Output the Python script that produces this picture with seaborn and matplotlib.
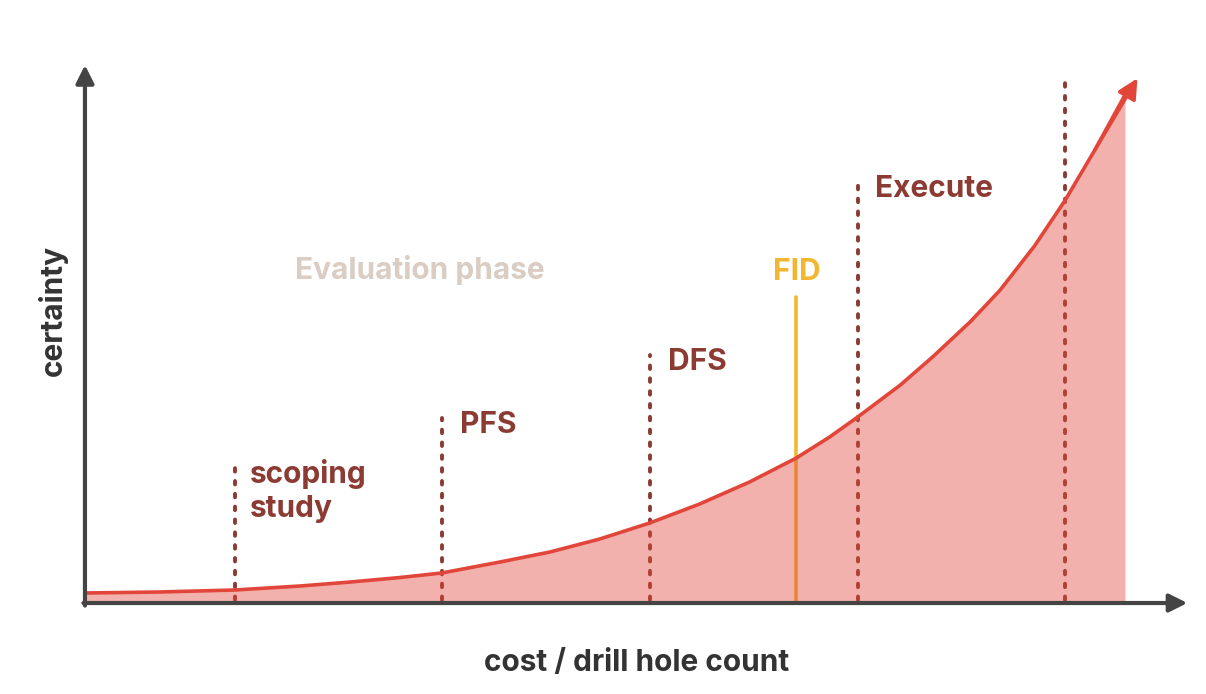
import matplotlib
matplotlib.use('Agg')
import matplotlib.pyplot as plt
import seaborn as sns

# curve (cost in %, certainty in %)
cost = [0, 7.2, 14.4, 20.7, 25.5, 30.3, 34.3, 39.9, 44.7, 49.5, 54.3, 59.1,
        63.9, 68.4, 71.6, 74.3, 78.4, 81.5, 85.1, 88.0, 91.3, 94.2, 97.1, 100.0]
certainty = [1.97, 2.17, 2.56, 3.35, 4.13, 5.02, 5.91, 8.07, 10.04, 12.60, 15.75, 19.49,
             23.82, 28.54, 32.68, 36.61, 42.91, 48.43, 55.31, 61.61, 70.28, 79.13, 89.17, 100.0]
arrow_tip = (101.2, 103.3)

# study gates
gates = ['scoping\nstudy', 'PFS', 'DFS', 'Execute', '']
gate_x = [14.4, 34.3, 54.3, 74.3, 94.2]
gate_top = [26.8, 36.4, 48.8, 82.7, 102.6]
fid_x = 68.4
fid_top = 60.2

red = '#e2463a'
brown = '#8c3b33'
gold = '#f2b630'
axis_col = '#444444'

sns.set_theme(style='white')
plt.rcParams['font.family'] = ['Inter', 'DejaVu Sans']

fig = plt.figure(figsize=(12.06, 6.94), dpi=100)
ax = fig.add_axes([0, 0, 1, 1])
ax.set_xlim(-8.17, 107.79)
ax.set_ylim(-17.91, 118.7)
ax.axis('off')

# gate lines
for gx, gt in zip(gate_x, gate_top):
    ax.plot([gx, gx], [0.6, gt], color=brown, lw=2.8,
            linestyle=(0, (0.9, 2.4)), dash_capstyle='round', zorder=2)
ax.plot([fid_x, fid_x], [0, fid_top], color=gold, lw=2.6, zorder=2)

# area under the curve
ax.fill_between(cost, 0, certainty, color=red, alpha=0.42, lw=0, zorder=3)
sns.lineplot(x=cost, y=certainty, ax=ax, color=red, lw=2.6, zorder=4,
             sort=False, estimator=None)
ax.annotate('', xy=arrow_tip, xytext=(cost[-2], certainty[-2]),
            arrowprops=dict(arrowstyle='-|>,head_length=1.0,head_width=0.5',
                            color=red, lw=2.6, shrinkA=0, shrinkB=0), zorder=4)

# axes arrows
ax.annotate('', xy=(0, 105.9), xytext=(0, -0.5),
            arrowprops=dict(arrowstyle='-|>,head_length=0.9,head_width=0.45',
                            color=axis_col, lw=3, shrinkA=0, shrinkB=0), zorder=5)
ax.annotate('', xy=(106.0, 0), xytext=(-0.15, 0),
            arrowprops=dict(arrowstyle='-|>,head_length=0.9,head_width=0.45',
                            color=axis_col, lw=3, shrinkA=0, shrinkB=0), zorder=5)

# labels
fs = 21.5
ax.text(15.9, 28.4, gates[0], color=brown, fontsize=fs, fontweight='bold',
        ha='left', va='top', linespacing=1.3)
ax.text(36.1, 35.0, gates[1], color=brown, fontsize=fs, fontweight='bold', ha='left', va='center')
ax.text(56.1, 47.4, gates[2], color=brown, fontsize=fs, fontweight='bold', ha='left', va='center')
ax.text(76.0, 81.4, gates[3], color=brown, fontsize=fs, fontweight='bold', ha='left', va='center')
ax.text(fid_x, 65.2, 'FID', color=gold, fontsize=fs, fontweight='bold', ha='center', va='center')
ax.text(20.2, 65.6, 'Evaluation phase', color='#d9cdc4', fontsize=fs, fontweight='bold',
        ha='left', va='center')

ax.text(53.0, -11.8, 'cost / drill hole count', color='#333333', fontsize=21.5,
        fontweight='bold', ha='center', va='center')
ax.text(-3.1, 57.6, 'certainty', color='#333333', fontsize=21.5, fontweight='bold',
        ha='center', va='center', rotation=90)

fig.savefig('out.png', dpi=100)
